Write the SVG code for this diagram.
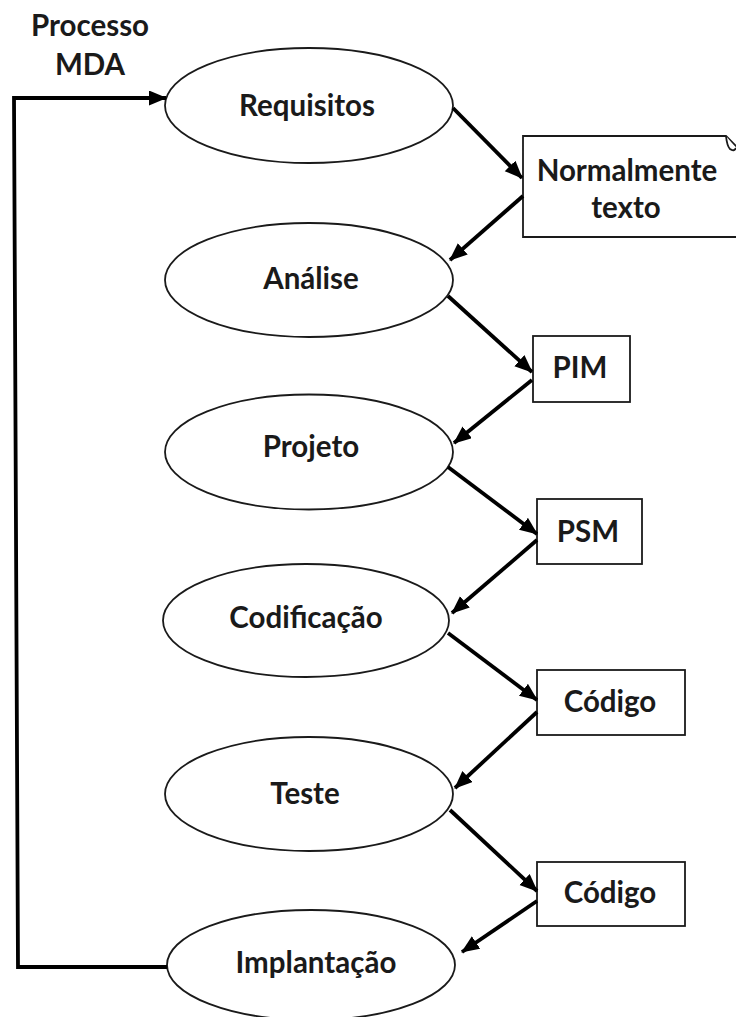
<svg xmlns="http://www.w3.org/2000/svg" width="736" height="1017" viewBox="0 0 736 1017">
  <style>
    .shape { fill: #ffffff; stroke: #1a1a1a; stroke-width: 1.8; }
    .lbl { font-family: Lato, "Open Sans", "Liberation Sans", sans-serif; font-weight: bold; font-size: 29.5px; fill: #1a1a1a; text-anchor: middle; }
    .flow { fill: none; stroke: #000000; stroke-width: 3.8; }
  </style>
  <defs>
    <marker id="head" markerUnits="userSpaceOnUse" markerWidth="18" markerHeight="16" refX="17" refY="7.5" orient="auto">
      <path d="M0,0 L18,7.5 L0,15 Z" fill="#000000"/>
    </marker>
  </defs>

  <rect width="736" height="1017" fill="#ffffff"/>

  <!-- title -->
  <g id="title">
    <text class="lbl" x="90" y="36">Processo</text>
    <text class="lbl" x="90" y="75">MDA</text>
  </g>

  <!-- activity ellipses -->
  <g id="requisitos">
    <ellipse class="shape" cx="309" cy="105.5" rx="144" ry="57.5"/>
    <text class="lbl" x="307" y="116">Requisitos</text>
  </g>
  <g id="analise">
    <ellipse class="shape" cx="309" cy="280" rx="144" ry="57"/>
    <text class="lbl" x="311" y="289">Análise</text>
  </g>
  <g id="projeto">
    <ellipse class="shape" cx="309" cy="452" rx="144" ry="57.5"/>
    <text class="lbl" x="311" y="457">Projeto</text>
  </g>
  <g id="codificacao">
    <ellipse class="shape" cx="306" cy="620.5" rx="143" ry="56.5"/>
    <text class="lbl" x="306" y="628">Codificação</text>
  </g>
  <g id="teste">
    <ellipse class="shape" cx="309" cy="794" rx="144" ry="57"/>
    <text class="lbl" x="305" y="804">Teste</text>
  </g>
  <g id="implantacao">
    <ellipse class="shape" cx="311" cy="965" rx="144" ry="55"/>
    <text class="lbl" x="316" y="973">Implantação</text>
  </g>

  <!-- artefacts -->
  <g id="normalmente-texto">
    <path class="shape" d="M523,136 H726 L742,152 V237 H523 Z"/>
    <path class="shape" d="M726,136 Q727,146 730,149 Q734,152 736,148"/>
    <text class="lbl" x="627" y="181">Normalmente</text>
    <text class="lbl" x="626" y="218">texto</text>
  </g>
  <g id="pim">
    <rect class="shape" x="533" y="336" width="97" height="66"/>
    <text class="lbl" x="580" y="378">PIM</text>
  </g>
  <g id="psm">
    <rect class="shape" x="537" y="499" width="105" height="65"/>
    <text class="lbl" x="588" y="542">PSM</text>
  </g>
  <g id="codigo-1">
    <rect class="shape" x="537" y="670" width="148" height="65"/>
    <text class="lbl" x="610" y="712">Código</text>
  </g>
  <g id="codigo-2">
    <rect class="shape" x="537" y="862" width="148" height="64"/>
    <text class="lbl" x="610" y="903">Código</text>
  </g>

  <!-- connectors -->
  <g id="connectors">
    <path class="flow" d="M167,967 H18 L14,98 H166" marker-end="url(#head)"/>
    <path class="flow" d="M453,108 L522,178" marker-end="url(#head)"/>
    <path class="flow" d="M523,196 L450,260" marker-end="url(#head)"/>
    <path class="flow" d="M448,296 L532,372" marker-end="url(#head)"/>
    <path class="flow" d="M532,380 L454,443" marker-end="url(#head)"/>
    <path class="flow" d="M448,467 L537,534" marker-end="url(#head)"/>
    <path class="flow" d="M537,540 L452,613" marker-end="url(#head)"/>
    <path class="flow" d="M448,633 L537,700" marker-end="url(#head)"/>
    <path class="flow" d="M537,712 L455,788" marker-end="url(#head)"/>
    <path class="flow" d="M450,810 L537,891" marker-end="url(#head)"/>
    <path class="flow" d="M537,901 L462,952" marker-end="url(#head)"/>
  </g>
</svg>
